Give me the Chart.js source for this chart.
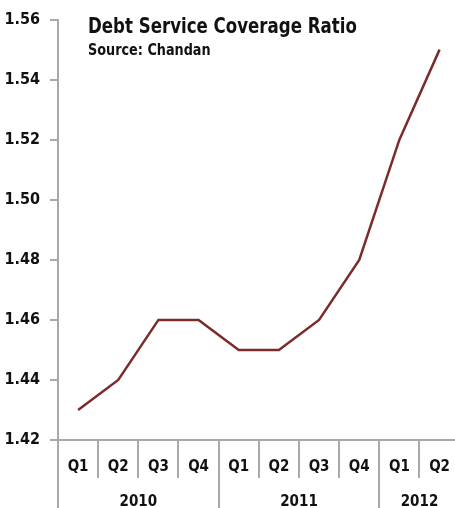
<!DOCTYPE html>
<html>
<head>
<meta charset="utf-8">
<script src="https://cdn.jsdelivr.net/npm/chart.js@4/dist/chart.umd.min.js"></script>
<style>
  html, body { margin: 0; padding: 0; background: #fff; overflow: hidden; }
  #wrap { width: 468px; height: 508px; }
</style>
</head>
<body>
<div id="wrap"><canvas id="c" width="468" height="508"></canvas></div>
<script>
// Quarterly debt service coverage ratio, 2010 Q1 – 2012 Q2
const quarters = ['Q1', 'Q2', 'Q3', 'Q4', 'Q1', 'Q2', 'Q3', 'Q4', 'Q1', 'Q2'];
const years = ['2010', '2011', '2012'];
const quartersPerYear = [4, 4, 2];
const dscr = [1.43, 1.44, 1.46, 1.46, 1.45, 1.45, 1.46, 1.48, 1.52, 1.55];
const yTicks = [1.42, 1.44, 1.46, 1.48, 1.50, 1.52, 1.54, 1.56];

const FONT = '"Liberation Sans Narrow", "DejaVu Sans Condensed", "Liberation Sans", sans-serif';
const AXIS_GREY = '#a9a9a9';

// draw text squeezed horizontally to mimic a condensed face
function condensedText(ctx, text, x, y, sx) {
  ctx.save();
  ctx.translate(x, y);
  ctx.scale(sx, 1);
  ctx.fillText(text, 0, 0);
  ctx.restore();
}

// Quarter separators, year separators, year labels and the title block
const groupAxis = {
  id: 'groupAxis',
  afterDraw(chart) {
    const x = chart.scales.x;
    const ctx = chart.ctx;
    const half = (x.getPixelForValue(1) - x.getPixelForValue(0)) / 2;
    const top = x.top;
    const bottom = chart.height;
    const yearStarts = [];
    let acc = 0;
    quartersPerYear.forEach(n => { yearStarts.push(acc); acc += n; });

    ctx.save();
    ctx.strokeStyle = AXIS_GREY;
    ctx.lineWidth = 2;
    for (let i = 0; i <= quarters.length; i++) {
      const px = Math.round(x.getPixelForValue(i) - half);
      const isYear = yearStarts.includes(i);
      ctx.beginPath();
      ctx.moveTo(px, top);
      ctx.lineTo(px, isYear ? bottom : top + 38);
      ctx.stroke();
    }

    ctx.fillStyle = '#111';
    ctx.font = 'bold 15px ' + FONT;
    ctx.textAlign = 'center';
    ctx.textBaseline = 'middle';
    years.forEach((yr, k) => {
      const first = yearStarts[k];
      const last = first + quartersPerYear[k] - 1;
      const cx = (x.getPixelForValue(first) + x.getPixelForValue(last)) / 2;
      ctx.fillText(yr, cx, 502);
    });

    ctx.textAlign = 'left';
    ctx.textBaseline = 'alphabetic';
    ctx.font = 'bold 22px ' + FONT;
    condensedText(ctx, 'Debt Service Coverage Ratio', 88, 33, 0.84);
    ctx.font = 'bold 15px ' + FONT;
    condensedText(ctx, 'Source: Chandan', 88, 55, 0.95);
    ctx.restore();
  }
};

new Chart(document.getElementById('c'), {
  type: 'line',
  data: {
    labels: quarters,
    datasets: [{
      data: dscr,
      borderColor: '#7b2c2a',
      borderWidth: 2.5,
      pointRadius: 0,
      tension: 0,
      fill: false
    }]
  },
  options: {
    responsive: false,
    animation: false,
    layout: { padding: { top: 18, right: 0, bottom: 0, left: 0 } },
    plugins: { legend: { display: false }, tooltip: { enabled: false }, title: { display: false } },
    scales: {
      x: {
        offset: true,
        grid: { display: false, drawTicks: false },
        border: { display: true, color: AXIS_GREY, width: 2 },
        ticks: {
          color: '#111',
          font: { family: FONT, size: 15, weight: 'bold' },
          padding: 18,
          maxRotation: 0,
          autoSkip: false
        },
        afterFit(scale) { scale.height = 68; }
      },
      y: {
        min: 1.42,
        max: 1.56,
        afterBuildTicks(scale) { scale.ticks = yTicks.map(v => ({ value: v })); },
        grid: { drawOnChartArea: false, drawTicks: true, tickLength: 8, color: AXIS_GREY, lineWidth: 2 },
        border: { display: true, color: AXIS_GREY, width: 2 },
        ticks: {
          color: '#111',
          font: { family: FONT, size: 16, weight: 'bold' },
          padding: 10,
          callback: v => Number(v).toFixed(2)
        },
        afterFit(scale) { scale.width = 58; }
      }
    }
  },
  plugins: [groupAxis]
});
</script>
</body>
</html>
